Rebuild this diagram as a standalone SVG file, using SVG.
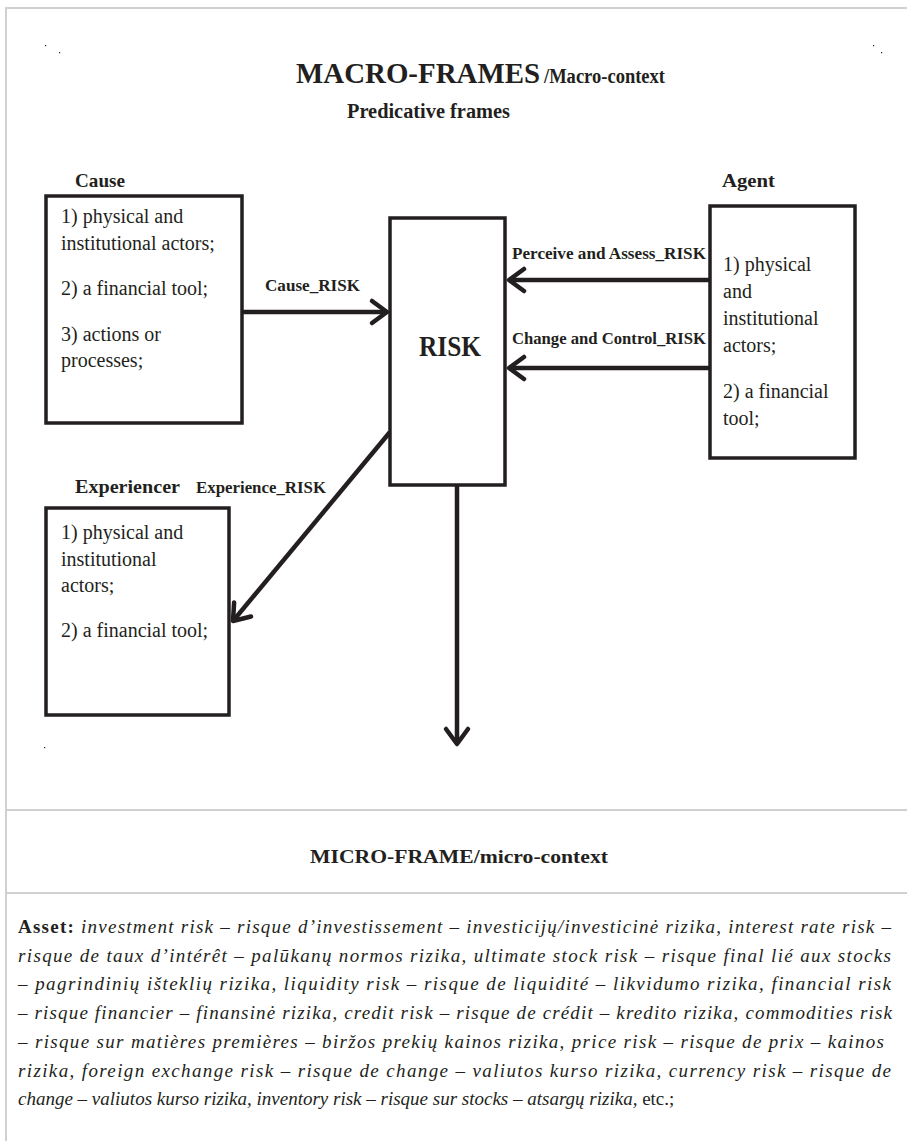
<svg xmlns="http://www.w3.org/2000/svg" width="907" height="1141" viewBox="0 0 907 1141">
  <style>
    .frame { fill: none; stroke: #d0d0d0; stroke-width: 2; }
    .box { fill: #ffffff; stroke: #231f20; stroke-width: 3.5; }
    .conn { fill: none; stroke: #231f20; stroke-width: 4.5; }
    .body { font-size: 20px; fill: #231f20; }
    .role { font-size: 19.5px; font-weight: bold; fill: #231f20; }
    .rel { font-size: 16px; font-weight: bold; fill: #231f20; }
    .para { font-size: 19px; font-style: italic; fill: #231f20; }
    .dot { fill: #231f20; }
  </style>
  <defs>
    <marker id="chev" viewBox="-20 -15 30 30" refX="0" refY="0" markerWidth="30" markerHeight="30" markerUnits="userSpaceOnUse" orient="auto" overflow="visible">
      <path d="M -15 -11 L 0 0 L -15 11" fill="none" stroke="#231f20" stroke-width="4.5" stroke-linejoin="round" stroke-linecap="round"/>
    </marker>
  </defs>

  <rect width="907" height="1141" fill="#ffffff"/>

  <!-- table frame -->
  <g id="frame">
    <line class="frame" x1="6" y1="8" x2="907" y2="8"/>
    <line class="frame" x1="6" y1="7" x2="6" y2="1141"/>
    <line class="frame" x1="6" y1="810" x2="907" y2="810"/>
    <line class="frame" x1="6" y1="893" x2="907" y2="893"/>
  </g>

  <!-- stray printer dots -->
  <g id="marks">
    <rect class="dot" x="45" y="45" width="1.2" height="1.2"/>
    <rect class="dot" x="59" y="52" width="1.2" height="1.2"/>
    <rect class="dot" x="873" y="45" width="1.2" height="1.2"/>
    <rect class="dot" x="881" y="52" width="1.2" height="1.2"/>
    <rect class="dot" x="44" y="747" width="1.2" height="1.2"/>
  </g>

  <g font-family="'Liberation Serif', 'Times New Roman', serif">
    <!-- headings -->
    <g id="title">
      <text x="296" y="83" font-weight="bold" font-size="29" fill="#231f20" textLength="244" lengthAdjust="spacingAndGlyphs">MACRO-FRAMES</text>
      <text x="544" y="83" font-weight="bold" font-size="20" fill="#231f20" textLength="121" lengthAdjust="spacingAndGlyphs">/Macro-context</text>
      <text x="347" y="118" font-weight="bold" font-size="20" fill="#231f20" textLength="163" lengthAdjust="spacingAndGlyphs">Predicative frames</text>
    </g>

    <!-- connectors -->
    <g id="connectors">
      <line class="conn" x1="242" y1="312" x2="387" y2="312" marker-end="url(#chev)"/>
      <line class="conn" x1="710" y1="280" x2="509" y2="280" marker-end="url(#chev)"/>
      <line class="conn" x1="710" y1="368" x2="509" y2="368" marker-end="url(#chev)"/>
      <line class="conn" x1="390" y1="432" x2="233" y2="621" marker-end="url(#chev)"/>
      <line class="conn" x1="457" y1="485" x2="457" y2="744" marker-end="url(#chev)"/>
      <text class="rel" x="265" y="291" textLength="95" lengthAdjust="spacingAndGlyphs">Cause_RISK</text>
      <text class="rel" x="512" y="259" textLength="194" lengthAdjust="spacingAndGlyphs">Perceive and Assess_RISK</text>
      <text class="rel" x="512" y="344" textLength="194" lengthAdjust="spacingAndGlyphs">Change and Control_RISK</text>
      <text class="rel" x="196" y="493" textLength="130" lengthAdjust="spacingAndGlyphs">Experience_RISK</text>
    </g>

    <!-- Cause -->
    <g id="cause">
      <text class="role" x="75" y="187" textLength="50" lengthAdjust="spacingAndGlyphs">Cause</text>
      <rect class="box" x="46" y="196" width="196" height="227"/>
      <text class="body" x="61" y="223">1) physical and</text>
      <text class="body" x="61" y="250">institutional actors;</text>
      <text class="body" x="61" y="295">2) a financial tool;</text>
      <text class="body" x="61" y="341">3) actions or</text>
      <text class="body" x="61" y="367">processes;</text>
    </g>

    <!-- RISK -->
    <g id="risk">
      <rect class="box" x="390" y="218" width="115" height="267"/>
      <text x="419" y="356" font-weight="bold" font-size="30" fill="#231f20" textLength="62" lengthAdjust="spacingAndGlyphs">RISK</text>
    </g>

    <!-- Agent -->
    <g id="agent">
      <text class="role" x="722" y="187" textLength="53" lengthAdjust="spacingAndGlyphs">Agent</text>
      <rect class="box" x="710" y="206" width="145" height="252"/>
      <text class="body" x="723" y="271">1) physical</text>
      <text class="body" x="723" y="298">and</text>
      <text class="body" x="723" y="325">institutional</text>
      <text class="body" x="723" y="352">actors;</text>
      <text class="body" x="723" y="398">2) a financial</text>
      <text class="body" x="723" y="425">tool;</text>
    </g>

    <!-- Experiencer -->
    <g id="experiencer">
      <text class="role" x="75" y="493" textLength="105" lengthAdjust="spacingAndGlyphs">Experiencer</text>
      <rect class="box" x="46" y="508" width="183" height="207"/>
      <text class="body" x="61" y="539">1) physical and</text>
      <text class="body" x="61" y="566">institutional</text>
      <text class="body" x="61" y="592">actors;</text>
      <text class="body" x="61" y="637">2) a financial tool;</text>
    </g>

    <!-- micro-context -->
    <g id="micro">
      <text x="310" y="863" font-weight="bold" font-size="19" fill="#231f20" textLength="298" lengthAdjust="spacingAndGlyphs">MICRO-FRAME/micro-context</text>
    </g>

    <!-- justified paragraph: full lines stretched to the column width, last line left ragged -->
    <g id="asset">
      <text class="para" x="18" y="933" textLength="873" lengthAdjust="spacing"><tspan font-style="normal" font-weight="bold">Asset:</tspan> investment risk – risque d’investissement – investicijų/investicinė rizika, interest rate risk –</text>
      <text class="para" x="18" y="962" textLength="873" lengthAdjust="spacing">risque de taux d’intérêt – palūkanų normos rizika, ultimate stock risk – risque final lié aux stocks</text>
      <text class="para" x="18" y="990" textLength="873" lengthAdjust="spacing">– pagrindinių išteklių rizika, liquidity risk – risque de liquidité – likvidumo rizika, financial risk</text>
      <text class="para" x="18" y="1019" textLength="874" lengthAdjust="spacing">– risque financier – finansinė rizika, credit risk – risque de crédit – kredito rizika, commodities risk</text>
      <text class="para" x="18" y="1048" textLength="866" lengthAdjust="spacing">– risque sur matières premières – biržos prekių kainos rizika, price risk – risque de prix – kainos</text>
      <text class="para" x="18" y="1077" textLength="873" lengthAdjust="spacing">rizika, foreign exchange risk – risque de change – valiutos kurso rizika, currency risk – risque de</text>
      <text class="para" x="18" y="1105">change – valiutos kurso rizika, inventory risk – risque sur stocks – atsargų rizika, <tspan font-style="normal">etc.;</tspan></text>
    </g>
  </g>
</svg>
